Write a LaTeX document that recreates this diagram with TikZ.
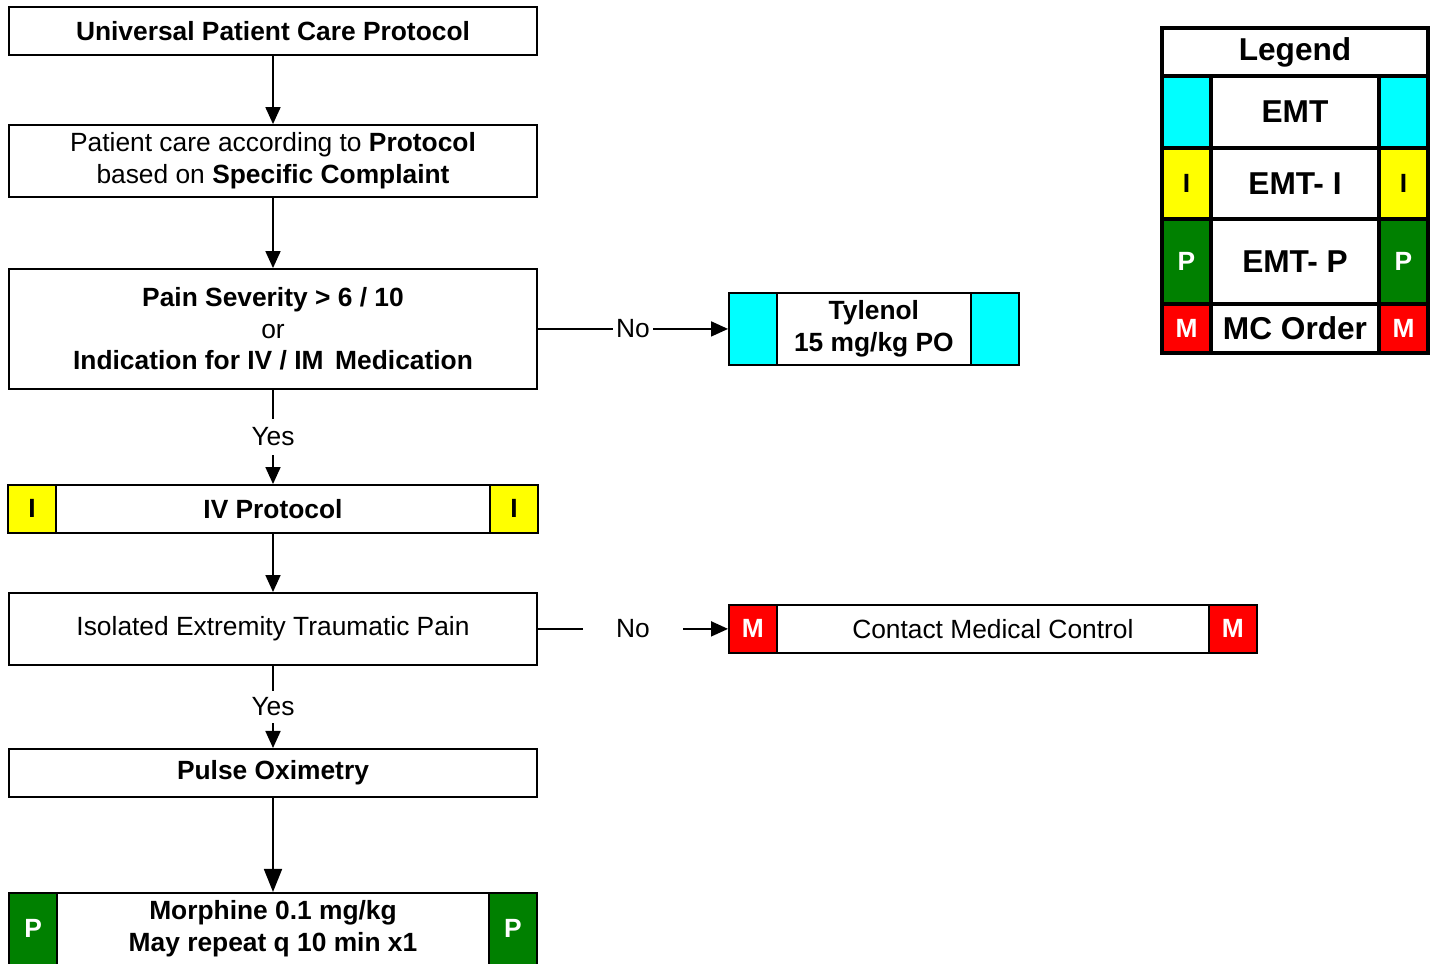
\documentclass[tikz,border=0pt]{standalone}
\usepackage{fontspec}
\setmainfont{Liberation Sans}
\usetikzlibrary{arrows.meta}
\definecolor{tagGreen}{RGB}{0,128,0}
\definecolor{tagCyan}{RGB}{0,255,255}
\definecolor{tagYellow}{RGB}{255,255,0}
\definecolor{tagRed}{RGB}{255,0,0}

\begin{document}
\begin{tikzpicture}[
        x=0.02cm, y=-0.02cm,
        node distance=2.6cm,
        font=\fontsize{15}{18}\selectfont,
        box/.style={draw, line width=1pt, rectangle, fill=white, align=center, minimum width=10.56cm, minimum height=0.96cm},
        tag/.style={draw, line width=1pt, minimum width=0.96cm, inner sep=0pt, font=\fontsize{15}{18}\selectfont\bfseries},
        arrow/.style={-{Triangle[length=0.34cm, width=0.3cm]}, line width=1pt},
        bigarrow/.style={-{Triangle[length=0.46cm, width=0.36cm]}, line width=1pt},
        lbl/.style={fill=white, inner sep=2pt},
        cell/.style={draw, line width=2.4pt, inner sep=0pt, font=\fontsize{18}{22}\selectfont\bfseries}
    ]
        \clip (0,0) rectangle (1432,963);

        \node[box, font=\fontsize{15}{18}\selectfont\bfseries] (start) at (273,31) {Universal Patient Care Protocol};
        \node[box, below of=start, minimum height=1.44cm] (care) {Patient care according to \textbf{Protocol}\\based on \textbf{Specific Complaint}};
        \node[box, below of=care, yshift=-0.76cm, minimum height=2.4cm] (pain) {\textbf{Pain Severity > 6 / 10}\\or\\\textbf{Indication for IV / IM\, Medication}};

        \draw[arrow] (start) -- (care);
        \draw[arrow] (care) -- (pain);

        % no pain relief needed -> tylenol
        \node[box, right of=pain, xshift=9.42cm, minimum width=5.8cm, minimum height=1.44cm, font=\fontsize{15}{18}\selectfont\bfseries] (tylenol) {Tylenol\\15 mg/kg PO};
        \node[tag, fill=tagCyan, minimum height=1.44cm, anchor=west] (tylenolL) at (tylenol.west) {};
        \node[tag, fill=tagCyan, minimum height=1.44cm, anchor=east] (tylenolR) at (tylenol.east) {};
        \draw[arrow] (pain) -- node[lbl]{No} (tylenol);

        \node[box, below of=pain, yshift=-1cm, minimum width=10.6cm, font=\fontsize{15}{18}\selectfont\bfseries] (iv) {IV Protocol};
        \node[tag, fill=tagYellow, minimum height=0.96cm, anchor=west] (ivL) at (iv.west) {I};
        \node[tag, fill=tagYellow, minimum height=0.96cm, anchor=east] (ivR) at (iv.east) {I};
        \draw[arrow] (pain) -- node[lbl, inner ysep=5pt]{Yes} (iv);

        \node[box, below of=iv, yshift=0.2cm, minimum height=1.44cm] (isolated) {Isolated Extremity Traumatic Pain};
        \draw[arrow] (iv) -- (isolated);

        \node[box, right of=isolated, xshift=11.8cm] (contact) {Contact Medical Control};
        \node[tag, fill=tagRed, text=white, minimum height=0.96cm, anchor=west] (contactL) at (contact.west) {M};
        \node[tag, fill=tagRed, text=white, minimum height=0.96cm, anchor=east] (contactR) at (contact.east) {M};
        \draw[arrow] (isolated) -- node[lbl, inner xsep=0.66cm]{No} (contact);

        \node[box, below of=isolated, yshift=-0.28cm, font=\fontsize{15}{18}\selectfont\bfseries] (pulse) {Pulse Oximetry};
        \draw[arrow] (isolated) -- node[lbl, inner ysep=4pt]{Yes} (pulse);

        \node[box, below of=pulse, yshift=-0.52cm, minimum height=1.44cm, font=\fontsize{15}{18}\selectfont\bfseries] (morphine) {Morphine 0.1 mg/kg\\May repeat q 10 min x1};
        \node[tag, fill=tagGreen, text=white, minimum height=1.44cm, anchor=west] (morphineL) at (morphine.west) {P};
        \node[tag, fill=tagGreen, text=white, minimum height=1.44cm, anchor=east] (morphineR) at (morphine.east) {P};
        \draw[bigarrow] (pulse) -- (morphine);

        % legend
        \node[cell, minimum width=5.32cm, minimum height=0.96cm] (lgTitle) at (1295,52) {Legend};
        \node[cell, minimum width=3.36cm, minimum height=1.44cm] (lgEmt) at (1295,112) {EMT};
        \node[cell, fill=tagCyan, minimum width=0.98cm, minimum height=1.44cm] (lgEmtL) at (1186.5,112) {};
        \node[cell, fill=tagCyan, minimum width=0.98cm, minimum height=1.44cm] (lgEmtR) at (1403.5,112) {};
        \node[cell, minimum width=3.36cm, minimum height=1.42cm] (lgEmtI) at (1295,183.5) {EMT- I};
        \node[cell, fill=tagYellow, minimum width=0.98cm, minimum height=1.42cm, font=\fontsize{15}{18}\selectfont\bfseries] (lgEmtIL) at (1186.5,183.5) {I};
        \node[cell, fill=tagYellow, minimum width=0.98cm, minimum height=1.42cm, font=\fontsize{15}{18}\selectfont\bfseries] (lgEmtIR) at (1403.5,183.5) {I};
        \node[cell, minimum width=3.36cm, minimum height=1.7cm] (lgEmtP) at (1295,261.5) {EMT- P};
        \node[cell, fill=tagGreen, text=white, minimum width=0.98cm, minimum height=1.7cm, font=\fontsize{15}{18}\selectfont\bfseries] (lgEmtPL) at (1186.5,261.5) {P};
        \node[cell, fill=tagGreen, text=white, minimum width=0.98cm, minimum height=1.7cm, font=\fontsize{15}{18}\selectfont\bfseries] (lgEmtPR) at (1403.5,261.5) {P};
        \node[cell, minimum width=3.36cm, minimum height=0.98cm] (lgMc) at (1295,328.5) {MC Order};
        \node[cell, fill=tagRed, text=white, minimum width=0.98cm, minimum height=0.98cm, font=\fontsize{15}{18}\selectfont\bfseries] (lgMcL) at (1186.5,328.5) {M};
        \node[cell, fill=tagRed, text=white, minimum width=0.98cm, minimum height=0.98cm, font=\fontsize{15}{18}\selectfont\bfseries] (lgMcR) at (1403.5,328.5) {M};
    \end{tikzpicture}
\end{document}
